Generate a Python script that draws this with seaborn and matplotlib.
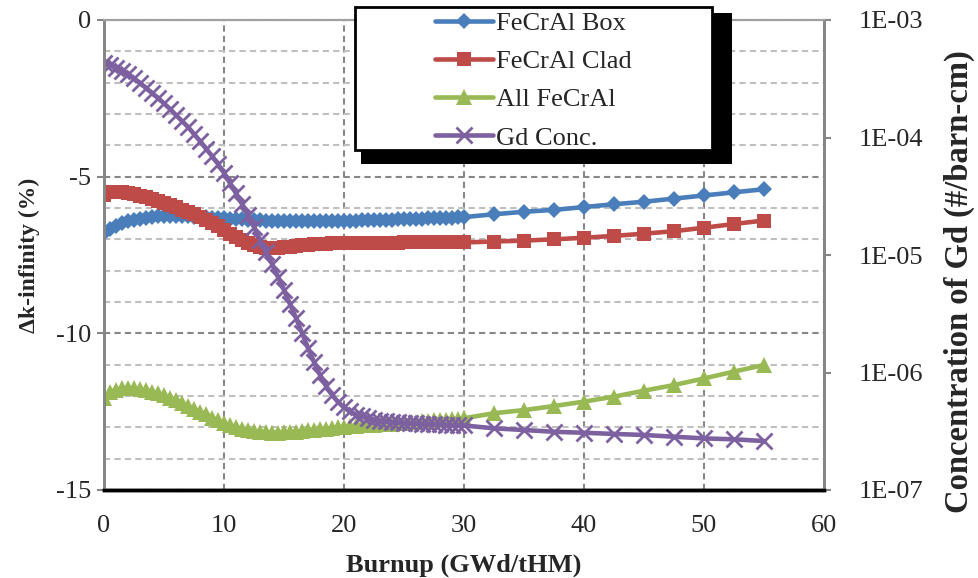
import matplotlib
matplotlib.use("Agg")
import matplotlib.pyplot as plt
import matplotlib.ticker as mticker
from matplotlib.patches import Rectangle
import seaborn as sns
import numpy as np

# burnup steps (GWd/tHM): fine steps to 30, then 2.5 steps
burnup = [0, 0.5, 1, 1.5, 2, 2.5, 3, 3.5, 4, 4.5,
          5, 5.5, 6, 6.5, 7, 7.5, 8, 8.5, 9, 9.5,
          10, 10.5, 11, 11.5, 12, 12.5, 13, 13.5, 14, 14.5,
          15, 15.5, 16, 16.5, 17, 17.5, 18, 18.5, 19, 19.5,
          20, 20.5, 21, 21.5, 22, 22.5, 23, 23.5, 24, 24.5,
          25, 25.5, 26, 26.5, 27, 27.5, 28, 28.5, 29, 29.5,
          30, 32.5, 35, 37.5, 40, 42.5, 45, 47.5, 50, 52.5, 55]

# delta k-infinity (%)
fecral_box = [-6.80, -6.66, -6.56, -6.49, -6.43, -6.38, -6.34, -6.31, -6.29, -6.27,
              -6.26, -6.26, -6.26, -6.26, -6.27, -6.28, -6.29, -6.30, -6.31, -6.32,
              -6.33, -6.34, -6.35, -6.36, -6.37, -6.38, -6.39, -6.40, -6.41, -6.42,
              -6.42, -6.43, -6.43, -6.43, -6.43, -6.43, -6.42, -6.42, -6.42, -6.41,
              -6.41, -6.40, -6.40, -6.39, -6.39, -6.38, -6.38, -6.37, -6.37, -6.36,
              -6.36, -6.35, -6.35, -6.34, -6.33, -6.33, -6.32, -6.31, -6.31, -6.30,
              -6.29, -6.20, -6.12, -6.06, -5.97, -5.88, -5.80, -5.70, -5.60, -5.50, -5.40]

fecral_clad = [-5.60, -5.50, -5.48, -5.49, -5.52, -5.56, -5.61, -5.66, -5.72, -5.78,
               -5.84, -5.91, -5.98, -6.05, -6.13, -6.20, -6.28, -6.37, -6.47, -6.58,
               -6.70, -6.82, -6.93, -7.03, -7.12, -7.19, -7.24, -7.27, -7.28, -7.27,
               -7.25, -7.23, -7.21, -7.19, -7.17, -7.16, -7.15, -7.14, -7.13, -7.12,
               -7.11, -7.11, -7.11, -7.11, -7.11, -7.11, -7.11, -7.11, -7.11, -7.11,
               -7.10, -7.10, -7.10, -7.10, -7.10, -7.10, -7.10, -7.10, -7.10, -7.10,
               -7.10, -7.07, -7.04, -7.00, -6.95, -6.89, -6.82, -6.74, -6.63, -6.51, -6.40]

all_fecral = [-12.07, -11.88, -11.80, -11.76, -11.75, -11.76, -11.78, -11.82, -11.86, -11.92,
              -11.98, -12.05, -12.13, -12.22, -12.31, -12.40, -12.50, -12.59, -12.69, -12.78,
              -12.87, -12.94, -13.00, -13.05, -13.09, -13.12, -13.15, -13.16, -13.17, -13.17,
              -13.16, -13.15, -13.14, -13.12, -13.10, -13.08, -13.06, -13.04, -13.02, -13.00,
              -12.98, -12.97, -12.96, -12.94, -12.93, -12.92, -12.90, -12.89, -12.88, -12.86,
              -12.85, -12.83, -12.82, -12.81, -12.79, -12.78, -12.76, -12.75, -12.74, -12.72,
              -12.71, -12.55, -12.45, -12.32, -12.18, -12.02, -11.83, -11.65, -11.44, -11.22, -11.01]

# Gd concentration (#/barn-cm)
gd_conc = [4.31e-4, 4.14e-4, 3.94e-4, 3.68e-4, 3.44e-4, 3.18e-4, 2.91e-4, 2.64e-4, 2.39e-4, 2.17e-4,
           1.95e-4, 1.75e-4, 1.55e-4, 1.38e-4, 1.23e-4, 1.07e-4, 9.33e-5, 8.05e-5, 6.96e-5, 5.95e-5,
           4.99e-5, 4.10e-5, 3.34e-5, 2.72e-5, 2.17e-5, 1.73e-5, 1.34e-5, 1.06e-5, 8.38e-6, 6.50e-6,
           5.04e-6, 3.83e-6, 2.91e-6, 2.17e-6, 1.62e-6, 1.23e-6, 9.53e-7, 7.67e-7, 6.44e-7, 5.61e-7,
           5.04e-7, 4.66e-7, 4.39e-7, 4.23e-7, 4.10e-7, 3.98e-7, 3.90e-7, 3.85e-7, 3.79e-7, 3.77e-7,
           3.75e-7, 3.72e-7, 3.70e-7, 3.68e-7, 3.66e-7, 3.64e-7, 3.61e-7, 3.59e-7, 3.57e-7, 3.55e-7,
           3.54e-7, 3.35e-7, 3.24e-7, 3.13e-7, 3.07e-7, 3.00e-7, 2.94e-7, 2.84e-7, 2.75e-7, 2.70e-7, 2.61e-7]

labels = ["FeCrAl Box", "FeCrAl Clad", "All FeCrAl", "Gd Conc."]
colors = ["#4A7EBB", "#BE4B48", "#98B954", "#7D60A0"]

sns.set_style("white")
plt.rcParams['font.family'] = ['Liberation Serif', 'DejaVu Serif']
plt.rcParams['axes.unicode_minus'] = False

W, H = 979, 578
fig = plt.figure(figsize=(W / 100, H / 100), dpi=100)
ax = fig.add_axes([104 / W, 88 / H, 720 / W, 470 / H])
ax2 = ax.twinx()

lw = 3.3
sns.lineplot(x=burnup, y=fecral_box, ax=ax, color=colors[0], lw=lw, marker="D",
             markersize=8.5, markeredgewidth=0, label=labels[0], sort=False, legend=False)
sns.lineplot(x=burnup, y=fecral_clad, ax=ax, color=colors[1], lw=lw, marker="s",
             markersize=10.5, markeredgewidth=0, label=labels[1], sort=False, legend=False)
sns.lineplot(x=burnup, y=all_fecral, ax=ax, color=colors[2], lw=lw, marker="^",
             markersize=11.5, markeredgewidth=0, label=labels[2], sort=False, legend=False)
sns.lineplot(x=burnup, y=gd_conc, ax=ax2, color=colors[3], lw=lw, marker="x",
             markersize=11, markeredgewidth=2, markeredgecolor=colors[3],
             label=labels[3], sort=False, legend=False)

# left axis
ax.set_xlim(0, 60)
ax.set_ylim(-15, 0)
ax.set_xticks(range(0, 61, 10))
ax.set_yticks(range(-15, 1, 5))
ax.set_yticks(range(-15, 1), minor=True)
ax.grid(which="minor", axis="y", color="#BFBFBF", lw=1.5, ls=(0, (3, 2)))
ax.grid(which="major", axis="y", color="#878787", lw=1.5, ls=(0, (3, 2)))
ax.grid(which="major", axis="x", color="#878787", lw=1.5, ls=(0, (3, 2)))
ax.tick_params(axis="y", which="major", direction="out", length=5, width=1.5,
               color="#868686", labelsize=19, pad=4)
ax.tick_params(axis="y", which="minor", length=0)
ax.tick_params(axis="x", length=0, labelsize=19, pad=18)
ax.set_xlabel("Burnup (GWd/tHM)", fontsize=19, fontweight="bold", labelpad=12)
ax.set_ylabel("Δk-infinity (%)", fontsize=17, fontweight="bold", labelpad=12)

# right axis (log)
ax2.set_yscale("log")
ax2.set_ylim(1e-7, 1e-3)
ax2.yaxis.set_major_locator(mticker.LogLocator(base=10, numticks=10))
ax2.yaxis.set_minor_locator(mticker.NullLocator())
ax2.yaxis.set_major_formatter(mticker.FuncFormatter(
    lambda v, p: "1E-%02d" % int(round(-np.log10(v)))))
ax2.tick_params(axis="y", direction="out", length=5, width=1.5, color="#868686",
                labelsize=19, pad=20)
ax2.set_ylabel("Concentration of Gd (#/barn-cm)", fontsize=23.5, fontweight="bold")
ax2.yaxis.set_label_coords((944 - 104) / 720, (578 - 282 - 88) / 470)

for a in (ax, ax2):
    a.spines["left"].set_color("#868686")
    a.spines["left"].set_linewidth(2)
    a.spines["right"].set_color("#868686")
    a.spines["right"].set_linewidth(2)
    a.spines["top"].set_color("#A0A0A0")
    a.spines["top"].set_linewidth(1.5)
    a.spines["bottom"].set_color("black")
    a.spines["bottom"].set_linewidth(2.5)

# legend box with solid black shadow
shadow = Rectangle((361 / W, 1 - 164 / H), (732 - 361) / W, (164 - 13) / H,
                   transform=fig.transFigure, facecolor="black", edgecolor="none",
                   zorder=10)
box = Rectangle((355 / W, 1 - 150 / H), (712 - 355) / W, (150 - 7) / H,
                transform=fig.transFigure, facecolor="white", edgecolor="black",
                lw=2, zorder=11)
fig.add_artist(shadow)
fig.add_artist(box)

handles = ax.get_lines()[:3] + ax2.get_lines()[:1]
leg = fig.legend(handles, labels, loc="center",
                 bbox_to_anchor=((355 + 712) / 2 / W, 1 - (9 + 152) / 2 / H),
                 frameon=False, fontsize=19, handlelength=2.2, handletextpad=0.1,
                 labelspacing=0.56, numpoints=1)
leg.set_zorder(12)

fig.savefig("out.png", dpi=100)
